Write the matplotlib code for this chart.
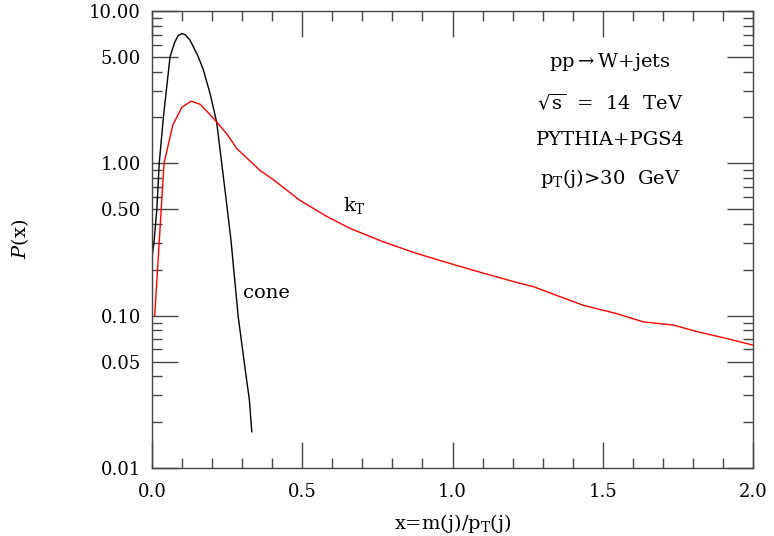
import matplotlib
matplotlib.use("Agg")
import matplotlib.pyplot as plt
from matplotlib.ticker import FixedLocator, FixedFormatter, MultipleLocator

plt.rcParams['font.family'] = ['DejaVu Serif']
plt.rcParams['mathtext.fontset'] = 'dejavuserif'

# cone algorithm jet mass distribution
cone_x = [0.0, 0.007, 0.016, 0.024, 0.038, 0.06, 0.075, 0.087, 0.099, 0.11,
          0.125, 0.138, 0.154, 0.171, 0.193, 0.215, 0.232, 0.249, 0.263, 0.271,
          0.287, 0.309, 0.324, 0.332]
cone_y = [0.24, 0.31, 0.5, 1.0, 2.02, 5.0, 6.2, 6.9, 7.1, 7.0,
          6.5, 5.8, 5.0, 4.1, 2.88, 1.87, 1.0, 0.53, 0.31, 0.21,
          0.098, 0.046, 0.028, 0.0173]

# kT algorithm jet mass distribution
kt_x = [0.009, 0.040, 0.069, 0.099, 0.130, 0.160, 0.19, 0.215, 0.25,
        0.282, 0.359, 0.404, 0.493, 0.58, 0.659, 0.77, 0.881, 0.992, 1.103,
        1.20, 1.269, 1.35, 1.435, 1.547, 1.635, 1.735, 1.82, 1.91, 2.0]
kt_y = [0.10, 1.0, 1.78, 2.33, 2.56, 2.44, 2.12, 1.87, 1.55,
        1.25, 0.90, 0.78, 0.57, 0.45, 0.374, 0.305, 0.256, 0.22, 0.19,
        0.168, 0.155, 0.135, 0.117, 0.103, 0.091, 0.0867, 0.078, 0.071, 0.064]

y_ticks = [0.01, 0.05, 0.1, 0.5, 1.0, 5.0, 10.0]
y_tick_labels = ["0.01", "0.05", "0.10", "0.50", "1.00", "5.00", "10.00"]
y_minor = [m * 10 ** e for e in (-2, -1, 0) for m in (2, 3, 4, 6, 7, 8, 9)]

info_lines = [r"pp$\rightarrow$W+jets", r"$\sqrt{\mathrm{s}}$  =  14  TeV",
              "PYTHIA+PGS4", r"p$_\mathrm{T}$(j)>30  GeV"]
info_y = [4.6, 2.5, 1.42, 0.80]

fig = plt.figure(figsize=(7.74, 5.36), dpi=100)
ax = fig.add_axes([0.1964, 0.1269, 0.7765, 0.8526])

ax.plot(cone_x, cone_y, color='black', lw=1.0)
ax.plot(kt_x, kt_y, color='red', lw=1.0)

ax.set_yscale('log')
ax.set_xlim(0, 2)
ax.set_ylim(0.01, 10)

ax.yaxis.set_major_locator(FixedLocator(y_ticks))
ax.yaxis.set_major_formatter(FixedFormatter(y_tick_labels))
ax.yaxis.set_minor_locator(FixedLocator(y_minor))
ax.yaxis.set_minor_formatter(FixedFormatter([""] * len(y_minor)))
ax.xaxis.set_major_locator(MultipleLocator(0.5))
ax.xaxis.set_minor_locator(MultipleLocator(0.1))
ax.xaxis.set_major_formatter(matplotlib.ticker.FormatStrFormatter('%.1f'))

ax.tick_params(which='both', direction='in', top=True, right=True,
               labelsize=13, color='#444444')
ax.tick_params(which='major', length=19, width=1.0)
ax.tick_params(which='minor', length=7, width=1.0)
ax.tick_params(axis='x', which='major', pad=11)
ax.tick_params(axis='y', which='major', pad=8)
for s in ax.spines.values():
    s.set_color('#444444')
    s.set_linewidth(1.0)

ax.set_xlabel(r"x=m(j)/p$_\mathrm{T}$(j)", fontsize=14, labelpad=8)
ax.set_ylabel(r"$P$(x)", fontsize=14, labelpad=42)

for t, yv in zip(info_lines, info_y):
    ax.text(1.524, yv, t, fontsize=14, ha='center', va='center')

ax.text(0.38, 0.14, "cone", fontsize=14, ha='center', va='center')
ax.text(0.675, 0.53, r"k$_\mathrm{T}$", fontsize=14, ha='center', va='center')

fig.savefig("out.png", dpi=100)
